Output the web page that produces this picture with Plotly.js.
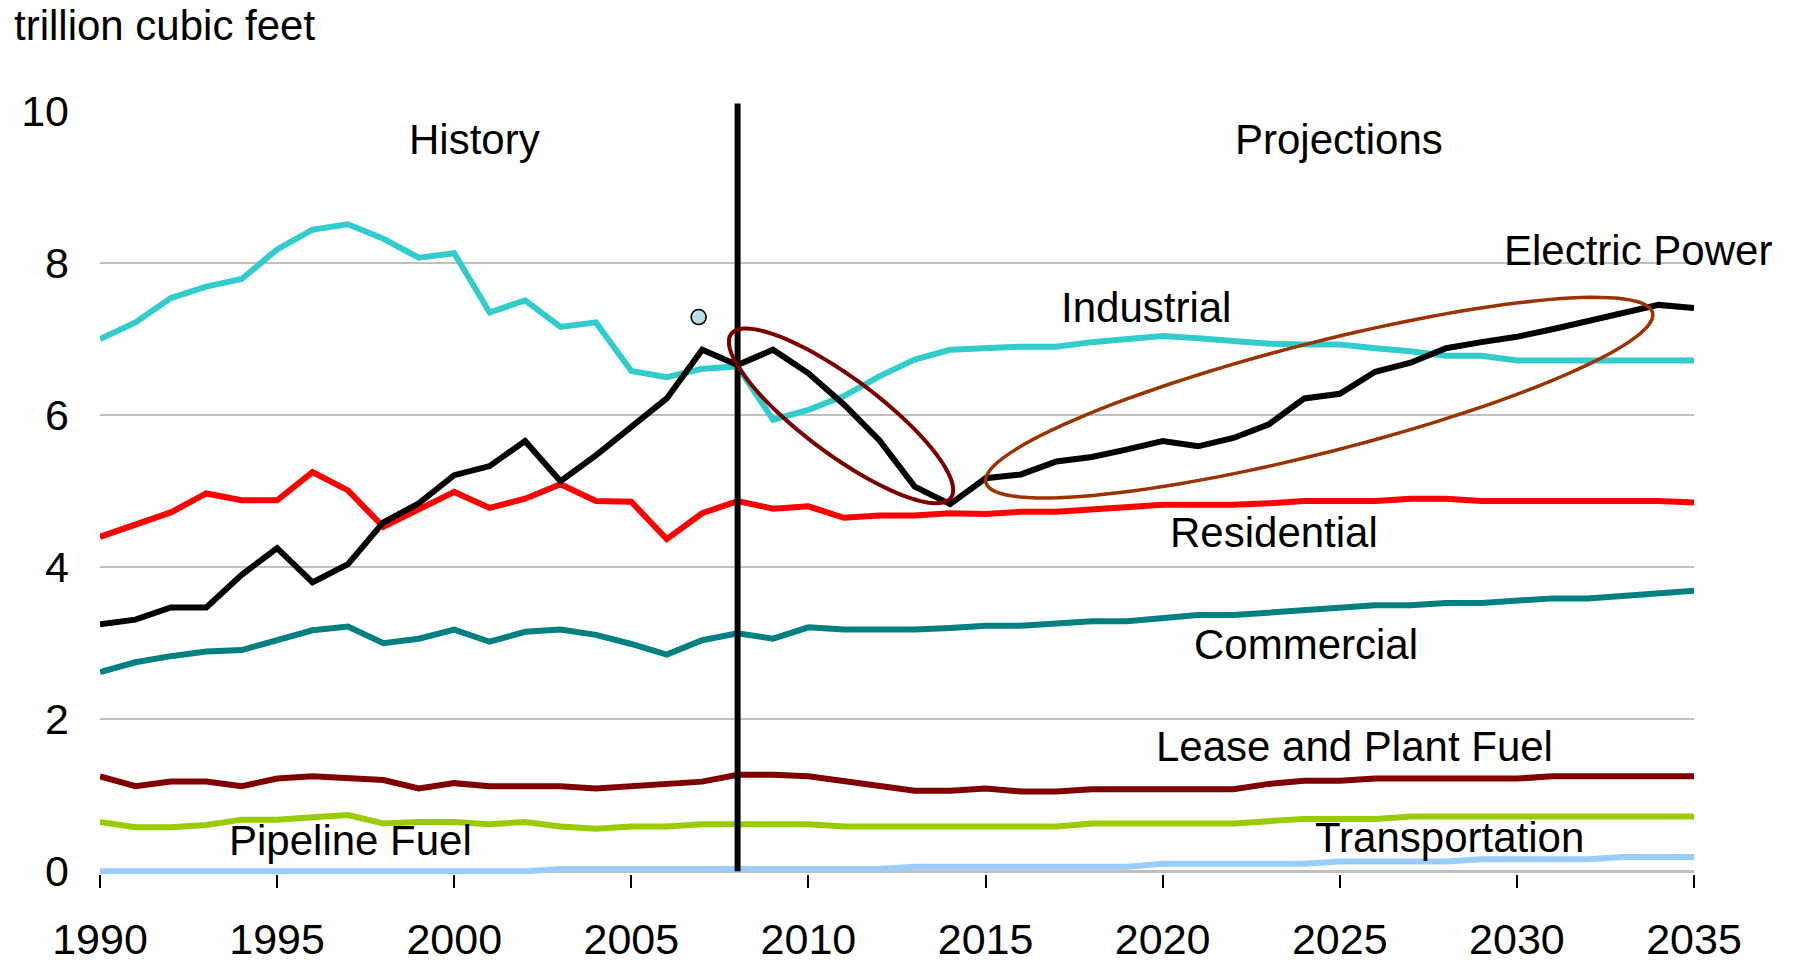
<!DOCTYPE html>
<html>
<head>
<meta charset="utf-8">
<script src="https://cdn.plot.ly/plotly-3.0.1.min.js"></script>
<style>html,body{margin:0;padding:0;background:#fff;}#chart{width:1795px;height:964px;}</style>
</head>
<body>
<div id="chart"></div>
<script>
// ---------- data ----------
var years = [1990,1991,1992,1993,1994,1995,1996,1997,1998,1999,2000,2001,2002,2003,2004,2005,2006,2007,2008,
             2009,2010,2011,2012,2013,2014,2015,2016,2017,2018,2019,2020,2021,2022,2023,2024,2025,2026,2027,
             2028,2029,2030,2031,2032,2033,2034,2035];

var industrial = [7.00,7.22,7.54,7.69,7.79,8.18,8.44,8.51,8.32,8.07,8.13,7.35,7.51,7.16,7.22,6.58,6.50,6.61,6.64,
                  5.94,6.07,6.25,6.51,6.73,6.86,
                  6.88,6.90,6.90,6.96,7.00,7.04,7.01,6.98,6.94,6.93,6.93,6.88,6.84,6.78,6.78,6.72,6.72,6.72,6.72,6.72,6.72];

var electricPower = [3.25,3.31,3.47,3.47,3.90,4.25,3.80,4.04,4.59,4.84,5.21,5.33,5.66,5.13,5.47,5.85,6.22,6.86,6.66,
                     6.86,6.55,6.14,5.67,5.06,4.83,
                     5.17,5.22,5.39,5.45,5.55,5.66,5.59,5.70,5.88,6.22,6.28,6.57,6.69,6.88,6.96,7.03,7.13,7.23,7.35,7.45,7.41];

var residential = [4.40,4.55,4.72,4.97,4.88,4.88,5.25,5.01,4.53,4.76,4.99,4.78,4.90,5.09,4.87,4.86,4.37,4.71,4.87,
                   4.77,4.80,4.65,4.68,4.68,4.71,
                   4.70,4.73,4.73,4.76,4.79,4.82,4.82,4.82,4.84,4.87,4.87,4.87,4.90,4.90,4.87,4.87,4.87,4.87,4.87,4.87,4.85];

var commercial = [2.62,2.75,2.83,2.89,2.91,3.05,3.17,3.22,3.00,3.06,3.18,3.02,3.15,3.18,3.11,2.99,2.85,3.04,3.13,
                  3.06,3.21,3.18,3.18,3.18,3.20,
                  3.23,3.23,3.26,3.29,3.29,3.33,3.37,3.37,3.40,3.43,3.47,3.50,3.50,3.53,3.53,3.56,3.59,3.59,3.62,3.66,3.69];

var leasePlantFuel = [1.25,1.12,1.18,1.18,1.12,1.22,1.25,1.23,1.20,1.09,1.16,1.12,1.12,1.12,1.09,1.12,1.15,1.18,1.27,
                      1.27,1.25,1.19,1.13,1.06,1.06,
                      1.09,1.05,1.05,1.08,1.08,1.08,1.08,1.08,1.15,1.19,1.19,1.22,1.22,1.22,1.22,1.22,1.25,1.25,1.25,1.25,1.25];

var pipelineFuel = [0.65,0.58,0.58,0.61,0.68,0.68,0.71,0.74,0.63,0.65,0.65,0.62,0.65,0.59,0.56,0.59,0.59,0.62,0.62,
                    0.62,0.62,0.59,0.59,0.59,0.59,
                    0.59,0.59,0.59,0.63,0.63,0.63,0.63,0.63,0.66,0.69,0.69,0.69,0.72,0.72,0.72,0.72,0.72,0.72,0.72,0.72,0.72];

var transportation = [0,0,0,0,0,0,0,0,0,0,0,0,0,0.03,0.03,0.03,0.03,0.03,0.03,
                      0.03,0.03,0.03,0.03,0.06,0.06,
                      0.06,0.06,0.06,0.06,0.06,0.10,0.10,0.10,0.10,0.10,0.13,0.13,0.13,0.13,0.16,0.16,0.16,0.16,0.19,0.19,0.19];

var strayPointYear = [2006.9];
var strayPointValue = [7.29];

var historyEndYear = 2008;
var yTickValues = [0,2,4,6,8,10];
var xTickValues = [1990,1995,2000,2005,2010,2015,2020,2025,2030,2035];

// ---------- layout geometry ----------
var W = 1795, H = 964;
var M = {l: 100, r: 101, t: 111, b: 90};
var xRange = [1990, 2035];
var yRange = [-0.035, 10];
var pxPerX = (W - M.l - M.r) / (xRange[1] - xRange[0]);
var pxPerY = (H - M.t - M.b) / (yRange[1] - yRange[0]);
function paperY(v){ return (v - yRange[0]) / (yRange[1] - yRange[0]); }

// rotated ellipse (semi-axes / rotation in screen pixels) -> data path
function ellipsePath(cx, cy, aPx, bPx, degScreen){
  var th = degScreen * Math.PI / 180, n = 120, d = '';
  for (var i = 0; i <= n; i++){
    var t = 2 * Math.PI * i / n;
    var dxp = aPx * Math.cos(t) * Math.cos(th) - bPx * Math.sin(t) * Math.sin(th);
    var dyp = aPx * Math.cos(t) * Math.sin(th) + bPx * Math.sin(t) * Math.cos(th);
    var x = cx + dxp / pxPerX, y = cy - dyp / pxPerY;
    d += (i === 0 ? 'M' : 'L') + x.toFixed(4) + ',' + y.toFixed(4);
  }
  return d + 'Z';
}

var FONT = '"Liberation Sans", Arial, Helvetica, sans-serif';

function line(name, y, color){
  return {type:'scatter', mode:'lines', name:name, x:years, y:y,
          line:{color:color, width:6, shape:'linear'}, hoverinfo:'x+y+name'};
}

var traces = [
  line('Transportation', transportation, '#99CCFF'),
  line('Pipeline Fuel', pipelineFuel, '#99CC00'),
  line('Lease and Plant Fuel', leasePlantFuel, '#800000'),
  line('Commercial', commercial, '#008080'),
  line('Residential', residential, '#FF0000'),
  line('Industrial', industrial, '#33CCCC'),
  line('Electric Power', electricPower, '#000000'),
  {type:'scatter', mode:'markers', x:strayPointYear, y:strayPointValue, showlegend:false,
   marker:{size:15, color:'#BCDFE3', line:{color:'#000000', width:1.6}}, hoverinfo:'skip'}
];

function label(text, x, y){
  return {text:text, x:x, y:y, xref:'x', yref:'y', showarrow:false,
          xanchor:'center', yanchor:'middle', font:{family:FONT, size:42, color:'#000'}};
}

var layout = {
  width: W, height: H,
  margin: M,
  paper_bgcolor:'#ffffff', plot_bgcolor:'#ffffff',
  showlegend:false,
  title:{text:'trillion cubic feet', xref:'container', yref:'container', x:14/W, xanchor:'left',
         y:1 - 25/H, yanchor:'middle', font:{family:FONT, size:42, color:'#000'}},
  xaxis:{range:xRange, tickmode:'array', tickvals:xTickValues, showgrid:false, zeroline:false,
         showline:false, ticks:'outside', ticklen:13, tickwidth:2, tickcolor:'#000',
         ticklabelstandoff:14,
         tickfont:{family:FONT, size:43, color:'#000'}, layer:'below traces'},
  yaxis:{range:yRange, tickmode:'array', tickvals:yTickValues, showgrid:true, gridcolor:'#C0C0C0',
         gridwidth:2, zeroline:false, showline:false, ticks:'', ticklabelstandoff:30,
         tickfont:{family:FONT, size:43, color:'#000'}},
  shapes:[
    {type:'line', xref:'x', yref:'y', x0:xRange[0], x1:xRange[1], y0:0, y1:0,
     line:{color:'#000', width:2}, layer:'below'},
    {type:'line', xref:'x', yref:'paper', x0:historyEndYear, x1:historyEndYear,
     y0:paperY(0), y1:paperY(10.1), line:{color:'#000', width:6}, layer:'above'},
    {type:'path', xref:'x', yref:'y', path:ellipsePath(2010.92, 5.99, 137, 38, 36.7),
     line:{color:'#7A0000', width:4}, layer:'above'},
    {type:'path', xref:'x', yref:'y', path:ellipsePath(2024.42, 6.23, 344, 55, -14.3),
     line:{color:'#993300', width:3.5}, layer:'above'}
  ],
  annotations:[
    label('History', 2000.58, 9.63),
    label('Projections', 2024.98, 9.63),
    label('Industrial', 2019.52, 7.41),
    label('Electric Power', 2033.43, 8.17),
    label('Residential', 2023.15, 4.45),
    label('Commercial', 2024.04, 2.99),
    label('Lease and Plant Fuel', 2025.42, 1.64),
    label('Transportation', 2028.1, 0.45),
    label('Pipeline Fuel', 1997.07, 0.40)
  ]
};

Plotly.newPlot('chart', traces, layout, {displayModeBar:false, staticPlot:true});
</script>
</body>
</html>
